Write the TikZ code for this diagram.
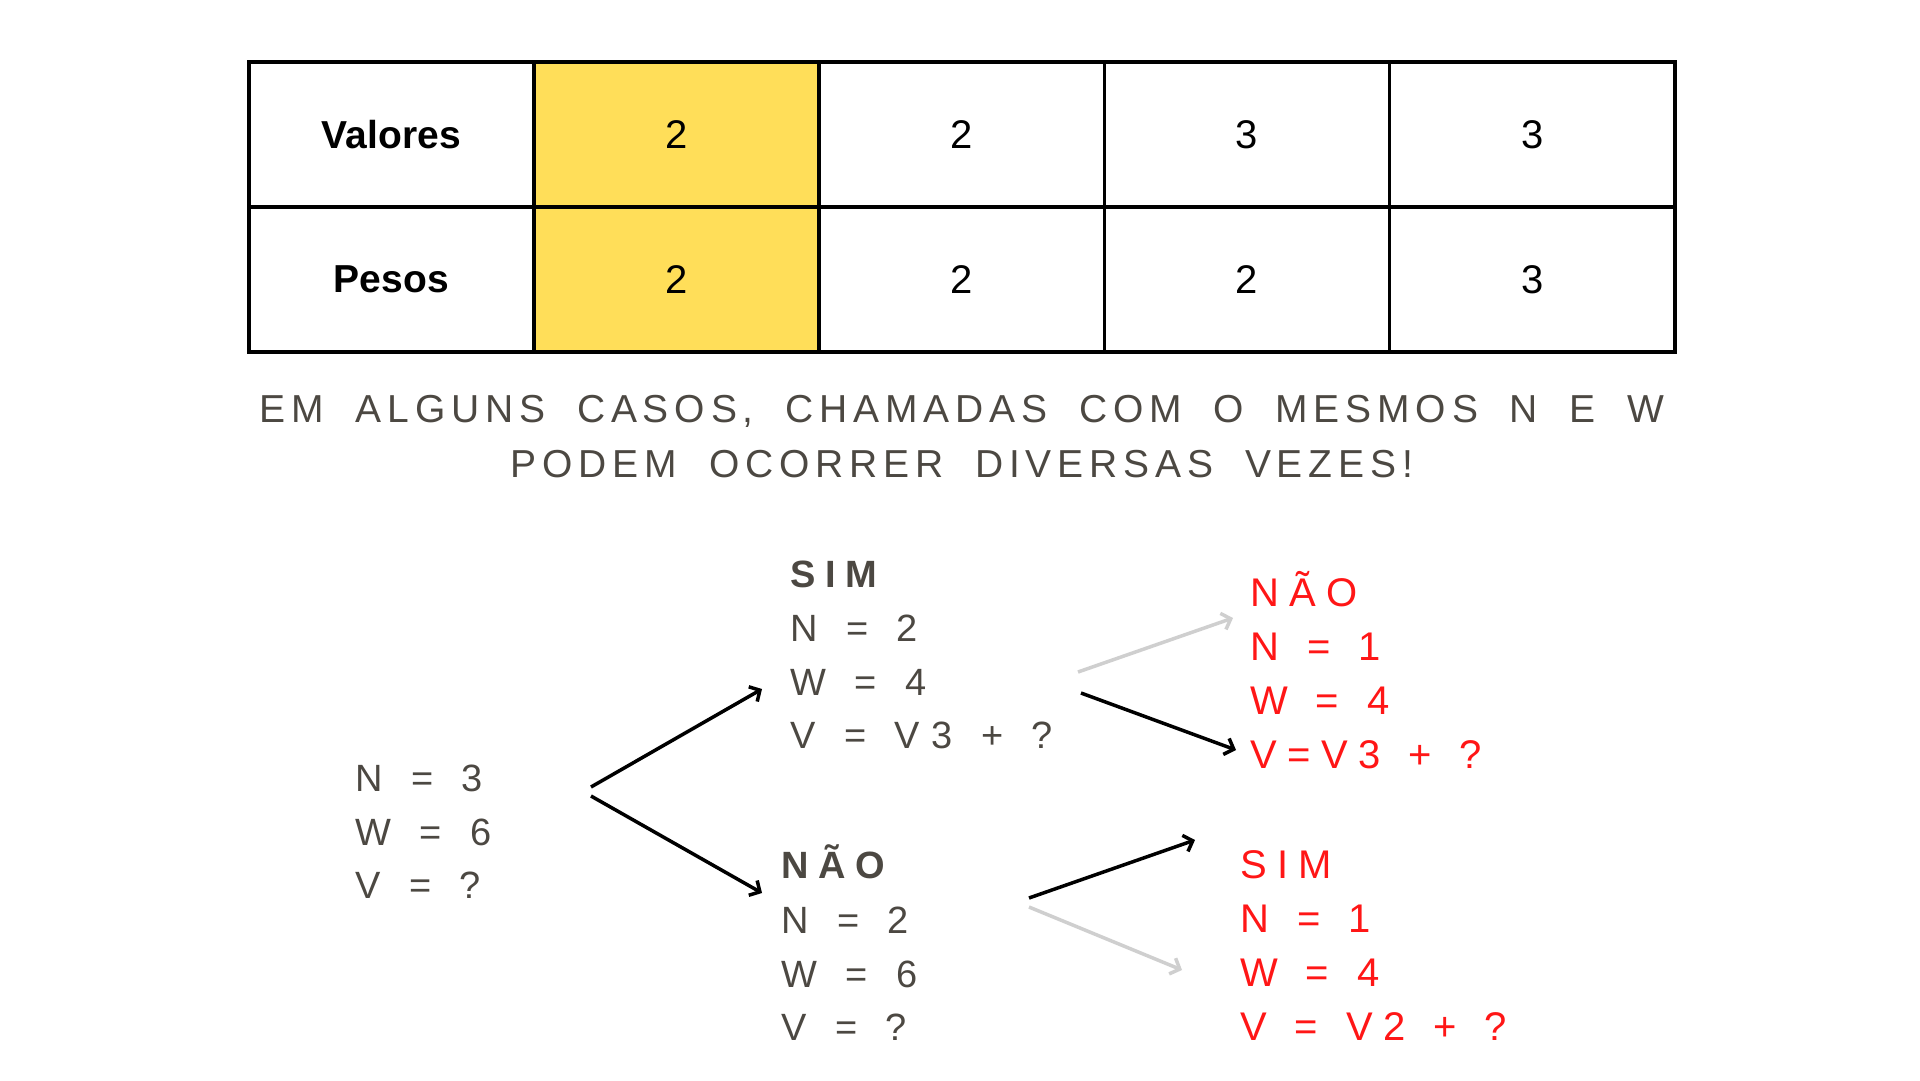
\documentclass[tikz,border=0pt]{standalone}
\usepackage{fontspec}
\setmainfont{Liberation Sans}
\newfontfamily\trackfont[LetterSpace=30,WordSpace=1.3]{Liberation Sans}
\newfontfamily\headfont[LetterSpace=26]{Liberation Sans}
\newfontfamily\redfont[LetterSpace=26,WordSpace=1.3]{Liberation Sans}
\newfontfamily\subfont[LetterSpace=15,WordSpace=1.9]{Liberation Sans}
\usetikzlibrary{arrows.meta}
\definecolor{ink}{RGB}{76,72,66}
\definecolor{hl}{RGB}{255,222,89}
\definecolor{alert}{RGB}{255,22,22}
\definecolor{faint}{RGB}{207,207,207}
\tikzset{
  cell/.style={draw=black, line width=3.5pt, minimum width=285.2pt, minimum height=145pt,
    inner sep=0pt, anchor=north west, font=\fontsize{40}{48}\selectfont},
  headcell/.style={cell, font=\fontsize{39}{46}\selectfont\bfseries},
  hlcell/.style={cell, fill=hl},
  subtxt/.style={anchor=base, inner sep=0pt, text=ink, font=\subfont\fontsize{39}{47}\selectfont},
  gline/.style={anchor=base west, inner sep=0pt, text=ink, font=\trackfont\fontsize{38}{46}\selectfont},
  ghead/.style={gline, font=\headfont\fontsize{38}{46}\selectfont\bfseries},
  rline/.style={anchor=base west, inner sep=0pt, text=alert, font=\redfont\fontsize{40}{48}\selectfont},
  darrow/.style={draw=black, line width=3.5pt, -{Straight Barb[length=8pt,width=17pt]}},
  larrow/.style={draw=faint, line width=3.5pt, -{Straight Barb[length=8pt,width=17pt]}}
}
\begin{document}
\begin{tikzpicture}[x=1pt,y=-1pt]
\useasboundingbox (0,0) rectangle (1920,1080);
\fill[white] (0,0) rectangle (1920,1080);

% table
\node[headcell] (v0) at (247,60) {Valores};
\node[hlcell]   (v1) at (532.2,60) {2};
\node[cell]     (v2) at (817.4,60) {2};
\node[cell]     (v3) at (1102.6,60) {3};
\node[cell]     (v4) at (1387.8,60) {3};
\node[headcell] (p0) at (247,205) {Pesos};
\node[hlcell]   (p1) at (532.2,205) {2};
\node[cell]     (p2) at (817.4,205) {2};
\node[cell]     (p3) at (1102.6,205) {2};
\node[cell]     (p4) at (1387.8,205) {3};

% subtitle
\node[subtxt] (sub1) at (962,422) {EM ALGUNS CASOS, CHAMADAS COM O MESMOS N E W};
\node[subtxt] (sub2) at (962,477) {PODEM OCORRER DIVERSAS VEZES!};

% root
\node[gline] (rN) at (355,791) {N = 3};
\node[gline] (rW) at (355,845) {W = 6};
\node[gline] (rV) at (355,898) {V = ?};

% SIM (gray)
\node[ghead] (sH) at (790,587) {SIM};
\node[gline] (sN) at (790,641) {N = 2};
\node[gline] (sW) at (790,695) {W = 4};
\node[gline] (sV) at (790,748) {V = V3 + ?};

% NAO (gray)
\node[ghead] (nH) at (781,878) {NÃO};
\node[gline] (nN) at (781,933) {N = 2};
\node[gline] (nW) at (781,987) {W = 6};
\node[gline] (nV) at (781,1040) {V = ?};

% red top NAO
\node[rline] (aH) at (1250,606) {NÃO};
\node[rline] (aN) at (1250,660) {N = 1};
\node[rline] (aW) at (1250,714) {W = 4};
\node[rline] (aV) at (1250,768) {V=V3 + ?};

% red bottom SIM
\node[rline] (bH) at (1240,878) {SIM};
\node[rline] (bN) at (1240,932) {N = 1};
\node[rline] (bW) at (1240,986) {W = 4};
\node[rline] (bV) at (1240,1040) {V = V2 + ?};

% connector end points
\coordinate (r1s) at (591,787);  \coordinate (r1e) at (762,689);
\coordinate (r2s) at (591,796);  \coordinate (r2e) at (762,893);
\coordinate (s1s) at (1078,672); \coordinate (s1e) at (1233,618);
\coordinate (s2s) at (1081,693); \coordinate (s2e) at (1236,750);
\coordinate (n1s) at (1029,898); \coordinate (n1e) at (1195,840);
\coordinate (n2s) at (1029,907); \coordinate (n2e) at (1182,970);

\draw[darrow] (r1s) -- (r1e);
\draw[darrow] (r2s) -- (r2e);
\draw[larrow] (s1s) -- (s1e);
\draw[darrow] (s2s) -- (s2e);
\draw[darrow] (n1s) -- (n1e);
\draw[larrow] (n2s) -- (n2e);
\end{tikzpicture}
\end{document}
